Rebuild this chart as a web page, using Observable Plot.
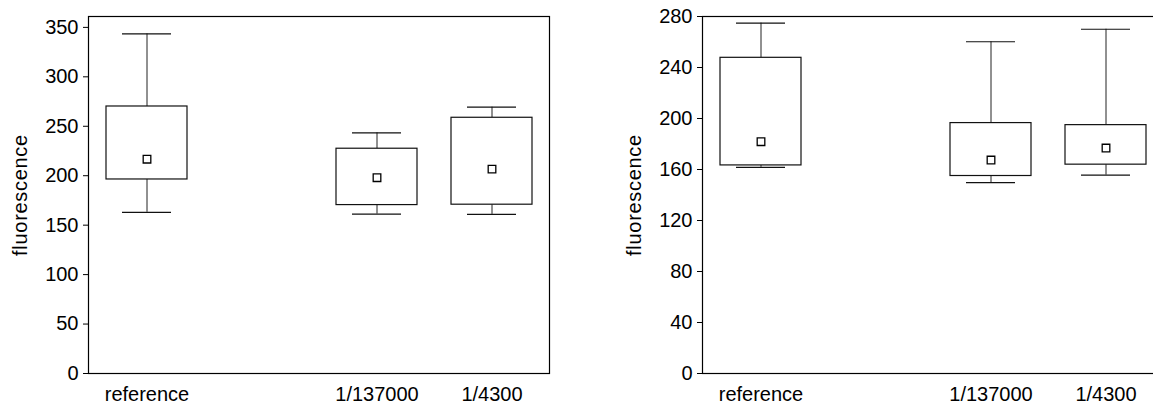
<!DOCTYPE html>
<html><head><meta charset="utf-8">
<script src="https://cdn.jsdelivr.net/npm/d3@7"></script>
<script src="https://cdn.jsdelivr.net/npm/@observablehq/plot@0.6"></script>
<style>
html,body{margin:0;padding:0;background:#fff;overflow:hidden}
#wrap{display:flex;width:1153px;height:405px;overflow:hidden}
#wrap > svg{flex:none}
g[aria-label="y-axis label"] text{letter-spacing:0.7px;font-size:20px}
</style></head><body><div id="wrap"></div>
<script>
// x categories (one empty slot between reference and 1/137000)
const categories = ["reference", "", "1/137000", "1/4300"];
const groups = ["reference", "1/137000", "1/4300"];

// left panel
const leftLow  = [163.0, 161.2, 160.9];
const leftQ1   = [196.2, 170.3, 170.7];
const leftMean = [216.7, 198.0, 206.7];
const leftQ3   = [270.0, 227.3, 258.6];
const leftHigh = [343.4, 243.4, 269.3];
const leftTicks = [0, 50, 100, 150, 200, 250, 300, 350];
const leftMax = 361;

// right panel
const rightLow  = [161.7, 149.7, 155.6];
const rightQ1   = [163.2, 154.9, 163.8];
const rightMean = [181.8, 167.4, 176.8];
const rightQ3   = [247.6, 196.4, 194.8];
const rightHigh = [274.8, 260.2, 270.0];
const rightTicks = [0, 40, 80, 120, 160, 200, 240, 280];
const rightMax = 280;

const yLabel = "fluorescence";

function panel(low, q1, mean, q3, high, yMax, yTicks) {
  const data = groups.map((g, i) => ({g, low: low[i], q1: q1[i], mean: mean[i], q3: q3[i], high: high[i]}));
  return Plot.plot({
    width: 614, height: 405,
    marginLeft: 88, marginRight: 65, marginTop: 16, marginBottom: 32,
    style: {fontFamily: "Arial, 'Liberation Sans', sans-serif", fontSize: "20px", color: "#000", background: "#fff"},
    x: {type: "band", domain: categories, paddingInner: 0.3, paddingOuter: 0.15, align: 0.5},
    y: {domain: [0, yMax]},
    marks: [
      Plot.frame({stroke: "#000", strokeWidth: 1.2}),
      Plot.axisY({ticks: yTicks, tickSize: 5, tickPadding: 5, fontSize: 20, label: yLabel, labelAnchor: "center", labelArrow: false, labelOffset: 76}),
      Plot.axisX({tickSize: 0, tickPadding: 13, fontSize: 20, label: null}),
      Plot.ruleX(data, {x: "g", y1: "low", y2: "q1", stroke: "#222"}),
      Plot.ruleX(data, {x: "g", y1: "q3", y2: "high", stroke: "#222"}),
      Plot.tickY(data, {x: "g", y: "low", insetLeft: 16, insetRight: 16, stroke: "#111", strokeWidth: 1.2}),
      Plot.tickY(data, {x: "g", y: "high", insetLeft: 16, insetRight: 16, stroke: "#111", strokeWidth: 1.2}),
      Plot.barY(data, {x: "g", y1: "q1", y2: "q3", fill: "white", stroke: "#111", strokeWidth: 1.2}),
      Plot.dot(data, {x: "g", y: "mean", symbol: "square", r: 4.3, fill: "white", stroke: "#000", strokeWidth: 1.3})
    ]
  });
}

const wrap = document.getElementById("wrap");
wrap.appendChild(panel(leftLow, leftQ1, leftMean, leftQ3, leftHigh, leftMax, leftTicks));
wrap.appendChild(panel(rightLow, rightQ1, rightMean, rightQ3, rightHigh, rightMax, rightTicks));
</script></body></html>
